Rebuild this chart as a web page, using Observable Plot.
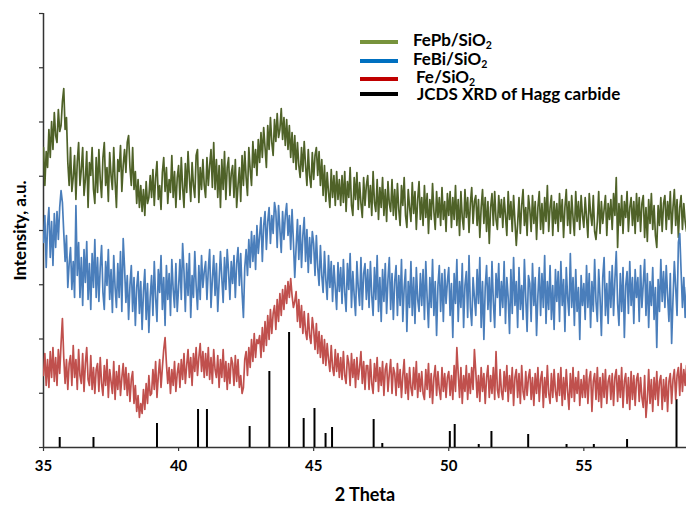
<!DOCTYPE html>
<html>
<head>
<meta charset="utf-8">
<script src="https://cdn.jsdelivr.net/npm/d3@7"></script>
<script src="https://cdn.jsdelivr.net/npm/@observablehq/plot@0.6"></script>
<style>
  html, body { margin: 0; padding: 0; background: #fff; }
  #wrap { position: relative; width: 686px; height: 507px; font-family: Lato, "Open Sans", sans-serif; }
  .sw { position: absolute; left: 360px; width: 38px; height: 3.5px; }
  .lt { position: absolute; font-weight: bold; font-size: 17px; line-height: 14px; color: #000; white-space: nowrap; }
  .lt sub { font-size: 0.62em; vertical-align: -0.25em; line-height: 0; }
</style>
</head>
<body>
<div id="wrap"></div>
<script>
// 2θ sampling: 35.00° onward in 0.05° steps
const xStart = 35, xStep = 0.05;

// Intensities (a.u.), one row per degree
const fePb = [
 300,262,296,280,318,290,326,298,335,312,305,338,316,322,346,359,318,330,285,262,
 300,256,270,292,248,286,305,262,278,300,252,268,296,240,285,272,300,258,244,290,
 255,298,268,250,290,305,262,280,246,295,272,258,300,266,240,288,276,302,256,282,
 298,275,305,312,280,262,300,258,276,244,268,240,262,236,258,232,266,244,250,272,
 250,278,242,270,286,248,262,238,275,290,256,280,244,268,255,292,250,276,240,270,
 282,248,290,260,240,284,255,296,270,246,285,262,250,292,298,245,280,258,288,262,
 250,290,262,282,298,260,305,258,288,250,282,240,288,258,296,248,280,290,252,274,
 282,250,288,240,262,280,246,292,262,296,270,252,300,278,262,306,280,298,272,308,
 285,315,290,320,300,280,322,298,330,305,292,328,306,334,310,318,339,308,330,302,
 328,298,322,290,315,285,312,278,305,282,270,300,276,306,282,262,298,272,260,295,
 268,292,300,272,296,262,288,252,282,246,275,255,240,278,250,272,242,276,248,268,
 242,272,245,276,236,266,250,280,242,232,270,248,275,238,265,244,230,270,242,262,
 272,240,262,232,276,245,236,268,228,260,240,270,232,258,226,266,244,236,268,232,
 258,228,264,238,222,262,242,270,232,220,258,240,226,265,234,256,218,248,266,228,
 250,222,262,230,254,214,248,228,264,236,218,256,230,250,222,260,228,246,216,254,
 232,256,220,250,228,262,222,248,212,256,230,218,258,230,250,215,244,260,224,246,
 252,222,248,210,240,258,224,250,216,246,204,240,254,222,256,228,218,252,230,248,
 220,250,232,212,256,228,246,216,252,226,202,224,250,214,242,258,222,240,212,252,
 238,216,252,224,246,208,240,256,218,244,214,250,226,262,216,240,252,212,246,224,
 244,216,254,226,248,210,240,258,222,246,214,252,230,212,256,226,246,218,252,232,
 220,250,230,210,254,234,222,252,216,208,226,256,214,246,224,238,252,212,244,228,
 248,218,254,232,270,200,244,222,252,214,246,230,256,216,240,250,222,246,214,254,
 226,250,216,244,252,210,240,206,248,224,254,218,242,212,200,242,222,250,216,244,
 252,218,246,228,256,214,240,258,222,248,210,240,252,218,244,226,216
];
const feBi = [
 205,232,180,222,240,190,226,182,234,200,236,208,240,257,245,215,186,212,160,184,
 200,158,186,150,242,172,205,150,190,142,198,165,206,148,184,138,194,160,208,150,
 190,146,180,202,155,138,186,162,198,148,178,135,192,160,140,184,150,196,136,209,
 180,145,172,128,162,182,136,170,122,160,176,134,166,118,156,178,128,164,115,150,
 172,132,186,150,126,178,155,192,138,170,122,182,148,174,132,188,158,140,184,136,
 160,188,148,204,176,136,184,152,194,130,172,150,196,162,138,182,148,192,160,176,
 186,148,178,198,140,168,192,152,184,136,166,196,170,145,190,158,198,176,148,186,
 164,192,150,184,200,162,194,155,130,180,198,172,208,180,216,186,212,178,222,194,
 212,230,186,222,236,198,226,240,204,232,214,245,236,200,242,218,195,236,208,232,
 244,212,232,198,238,206,170,200,228,188,222,180,212,230,186,218,175,210,184,216,
 204,172,212,180,162,202,172,155,196,168,148,192,160,186,146,182,160,138,185,156,
 180,144,188,155,136,184,158,194,140,176,152,132,186,160,142,190,138,174,184,148,
 178,140,186,152,132,180,148,192,136,170,126,178,146,184,134,168,190,138,174,128,
 166,182,132,172,142,188,126,160,178,116,166,140,186,132,170,124,180,148,136,174,
 142,178,128,186,150,120,170,140,188,132,166,112,162,182,136,174,126,178,144,166,
 180,132,164,110,174,144,188,126,166,140,184,120,162,176,130,192,140,122,170,150,
 132,178,144,190,120,166,108,160,182,138,170,126,186,146,120,174,150,184,132,166,
 140,186,124,170,150,114,178,134,190,142,166,120,180,138,162,128,188,150,116,172,
 164,126,184,142,170,112,152,180,132,174,140,192,124,166,138,182,128,162,118,178,
 146,176,126,186,142,168,116,180,150,132,194,140,170,122,178,136,160,108,172,142,
 164,128,182,140,174,120,166,136,188,146,126,178,150,112,170,190,132,164,124,176,
 140,182,132,168,196,144,122,174,136,180,110,162,176,134,186,142,170,124,178,150,
 170,126,182,140,164,188,132,174,120,166,142,180,128,160,100,168,136,188,146,176,
 140,182,152,126,174,104,148,186,160,132,205,214,176,140,170,130,160
];
const fe = [
 72,94,62,88,60,96,70,100,66,90,62,98,74,104,129,90,64,88,58,84,
 92,62,102,70,88,58,98,72,64,94,56,84,100,68,62,92,58,80,54,78,
 84,56,90,64,52,82,62,88,50,78,66,54,86,48,76,58,82,52,70,84,
 58,80,52,74,46,68,76,44,62,36,52,30,44,34,58,38,64,44,72,52,
 54,78,58,86,50,72,88,60,80,98,110,84,64,80,54,78,62,86,56,74,
 84,60,88,68,94,64,82,98,70,90,62,94,76,100,72,90,104,76,96,70,
 94,72,100,68,90,64,98,78,70,92,60,88,70,98,66,86,58,84,64,90,
 84,62,92,66,88,60,72,54,60,88,96,72,100,80,108,86,114,90,108,104,
 112,90,120,96,126,102,132,108,138,114,134,142,118,148,126,154,132,158,138,162,
 144,166,150,169,152,140,146,156,126,148,120,142,114,136,116,108,134,112,104,130,
 118,98,124,94,116,90,112,84,108,82,104,88,76,102,80,72,98,76,94,70,
 90,68,96,72,64,92,84,62,94,70,88,60,90,68,80,96,64,86,58,82,
 82,58,88,64,54,84,66,90,56,80,62,86,52,78,84,56,74,88,54,80,
 74,52,84,60,78,50,72,88,54,74,48,80,60,52,80,58,86,50,74,56,
 76,54,48,78,58,84,50,74,44,70,82,52,76,58,48,80,56,74,50,70,
 76,52,72,48,82,56,100,74,50,80,44,72,56,82,48,74,54,80,58,98,
 76,50,72,46,80,56,74,44,70,82,50,72,54,80,48,96,58,50,78,56,
 48,76,56,82,46,72,54,80,42,70,78,50,74,44,82,56,48,76,52,70,
 78,48,70,42,74,54,80,46,68,76,40,70,50,82,54,44,74,50,78,56,
 46,74,52,80,42,70,48,78,56,38,74,50,80,46,70,54,76,42,68,50,
 72,50,78,44,68,76,36,66,74,48,80,46,70,40,74,50,78,44,66,72,
 48,74,42,70,78,46,72,50,80,40,66,74,44,70,38,76,48,72,42,68,
 74,46,70,50,40,72,30,48,78,44,68,36,70,48,76,42,66,72,38,68,
 46,70,36,66,74,44,68,78,48,72,80,52,84,56,78,62,82
];

// Reference stick pattern (JCDS, Hagg carbide)
const stickPos = [35.6,36.85,39.2,40.72,41.05,42.63,43.36,44.09,44.63,45.03,45.44,45.68,47.22,47.54,50.04,50.22,51.11,51.58,52.94,54.36,55.37,56.6,58.43];
const stickInt = [10,10,24,38,38,21,76,115,29,39,14,20,28,4,16,23,3,16,13,3,3,8,48];

const xTicks = [35, 40, 45, 50, 55];
const yTicks = [0, 54.25, 108.5, 162.75, 217, 271.25, 325.5, 379.75, 434];

const seriesNames = ["FePb/SiO2", "FeBi/SiO2", "Fe/SiO2", "JCDS XRD of Hagg carbide"];
const lineColors = ["#4F6228", "#4A7EBB", "#C0504D"];
const legendColors = ["#77933C", "#0070C0", "#C00000", "#000000"];

const rows = (vals) => vals.map((v, i) => ({x: +(xStart + i * xStep).toFixed(2), y: v}));
const sticks = stickPos.map((p, i) => ({x: p, y: stickInt[i]}));

const chart = Plot.plot({
  width: 686, height: 507,
  marginLeft: 43, marginRight: 0, marginTop: 13, marginBottom: 60,
  style: {fontFamily: "Lato, 'Open Sans', sans-serif", fontSize: "15px", fontWeight: "bold", color: "#000", background: "#fff"},
  x: {domain: [35, 58.8], label: null},
  y: {domain: [0, 434], label: null},
  marks: [
    Plot.axisX({ticks: xTicks, tickSize: 4, tickPadding: 9, stroke: "#333", strokeWidth: 1.2, label: null}),
    Plot.axisY({ticks: yTicks, tickSize: 4, tickFormat: () => "", stroke: "#333", strokeWidth: 1.2, label: null}),
    Plot.ruleX([35], {stroke: "#333", strokeWidth: 1.5}),
    Plot.ruleY([0], {stroke: "#333", strokeWidth: 1.5}),
    Plot.ruleX(sticks, {x: "x", y: "y", stroke: "#000", strokeWidth: 2}),
    Plot.lineY(rows(fePb), {x: "x", y: "y", stroke: lineColors[0], strokeWidth: 1.7, clip: true}),
    Plot.lineY(rows(feBi), {x: "x", y: "y", stroke: lineColors[1], strokeWidth: 1.7, clip: true}),
    Plot.lineY(rows(fe), {x: "x", y: "y", stroke: lineColors[2], strokeWidth: 1.7, clip: true}),
    Plot.text(["2 Theta"], {frameAnchor: "bottom", dy: 48, textAnchor: "middle", lineAnchor: "middle", fontSize: 18, fontWeight: "bold"}),
    Plot.text(["Intensity, a.u."], {frameAnchor: "left", dx: -23, rotate: -90, textAnchor: "middle", lineAnchor: "middle", fontSize: 17, fontWeight: "bold"})
  ]
});

const wrap = document.getElementById("wrap");
wrap.appendChild(chart);

// Legend (HTML overlay)
const swatchTops = [40, 59, 77, 92];
const textTops = [33, 52, 69.5, 86.5];
const textLefts = [413, 413, 416, 417];
seriesNames.forEach((name, i) => {
  const sw = document.createElement("div");
  sw.className = "sw";
  sw.style.top = swatchTops[i] + "px";
  sw.style.background = legendColors[i];
  wrap.appendChild(sw);
  const t = document.createElement("div");
  t.className = "lt";
  t.style.top = textTops[i] + "px";
  t.style.left = textLefts[i] + "px";
  t.innerHTML = name.replace(/SiO2/, "SiO<sub>2</sub>");
  wrap.appendChild(t);
});
</script>
</body>
</html>
